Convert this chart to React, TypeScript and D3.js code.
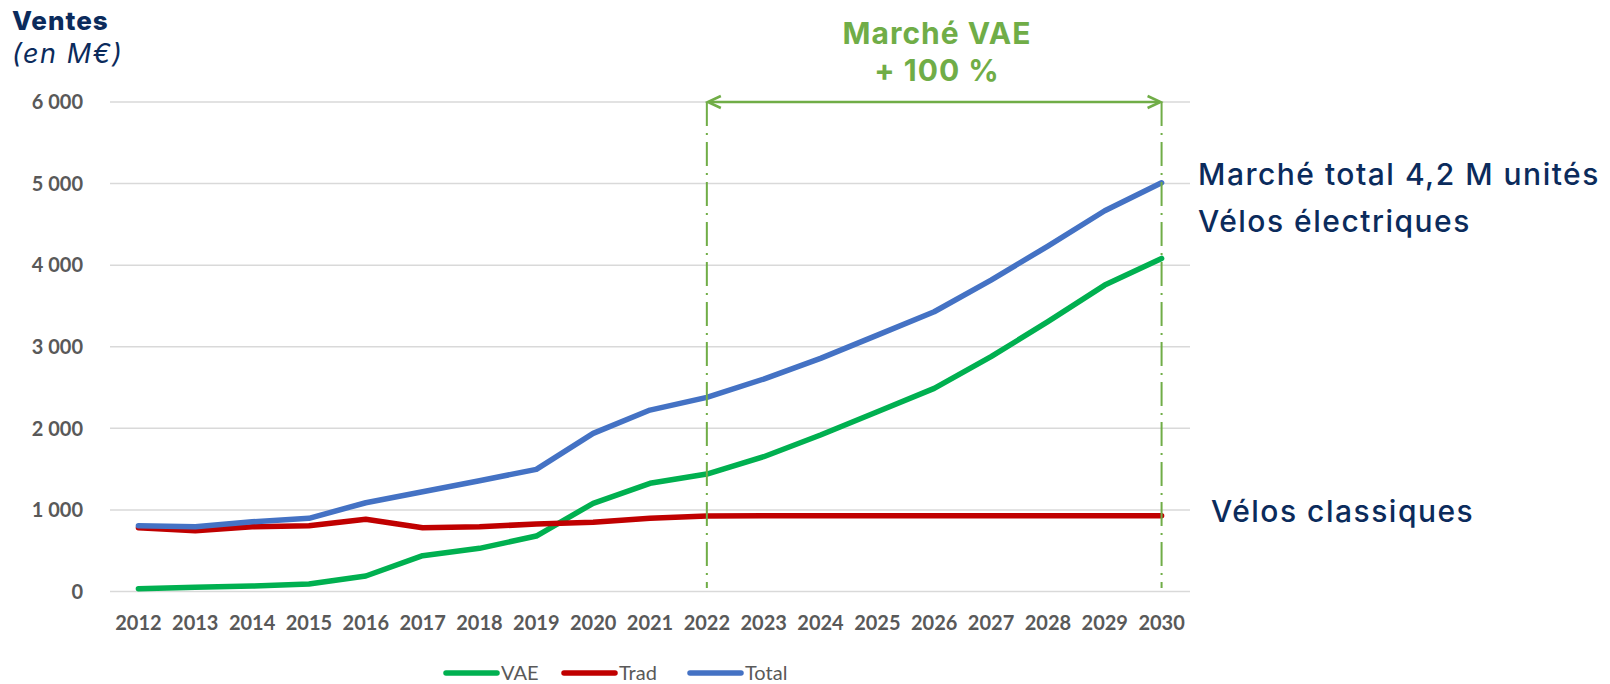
import React, { useEffect, useRef } from "react";
import * as d3 from "d3";

const years = [
  "2012", "2013", "2014", "2015", "2016", "2017", "2018", "2019", "2020", "2021",
  "2022", "2023", "2024", "2025", "2026", "2027", "2028", "2029", "2030",
];
const vae = [35, 51, 67, 92, 190, 439, 529, 680, 1081, 1326, 1440, 1652, 1918, 2204, 2490, 2878, 3307, 3756, 4083];
const trad = [782, 745, 794, 806, 885, 782, 794, 827, 848, 897, 925, 928, 928, 928, 928, 928, 928, 928, 928];
const total = [806, 794, 855, 897, 1088, 1223, 1358, 1497, 1938, 2224, 2380, 2604, 2857, 3143, 3429, 3817, 4234, 4667, 5010];
const yTicks = [0, 1000, 2000, 3000, 4000, 5000, 6000];
const seriesNames = ["VAE", "Trad", "Total"];
const seriesColors = ["#00B050", "#C00000", "#4472C4"];
const bracketYears = ["2022", "2030"];

const App = () => {
  const chartRef = useRef<SVGSVGElement | null>(null);

  useEffect(() => {
    const width = 1610;
    const height = 684;
    const svg = d3.select(chartRef.current);
    svg.selectAll("*").remove();
    svg.attr("width", width).attr("height", height);

    const navy = "#0B2B5C";
    const green = "#70AD47";
    const grey = "#595959";

    // scales
    const x = d3.scaleBand().domain(years).range([110, 1190]).padding(0);
    const cx = (d: string) => (x(d) as number) + x.bandwidth() / 2;
    const y = d3.scaleLinear().domain([0, 6000]).range([591.5, 102]);

    const fmt = d3.formatLocale({
      decimal: ",",
      thousands: "\u00a0",
      grouping: [3],
      currency: ["", " €"],
    }).format(",");

    // gridlines
    svg
      .append("g")
      .selectAll("line")
      .data(yTicks)
      .join("line")
      .attr("x1", 110)
      .attr("x2", 1190)
      .attr("y1", (d) => y(d))
      .attr("y2", (d) => y(d))
      .attr("stroke", "#D9D9D9")
      .attr("stroke-width", 1.5);

    // y tick labels
    svg
      .append("g")
      .selectAll("text")
      .data(yTicks)
      .join("text")
      .attr("x", 83)
      .attr("y", (d) => y(d))
      .attr("dy", "0.36em")
      .attr("text-anchor", "end")
      .style("font-family", "Lato")
      .style("font-weight", 700)
      .style("font-size", "20px")
      .style("fill", grey)
      .text((d) => fmt(d));

    // x tick labels
    svg
      .append("g")
      .selectAll("text")
      .data(years)
      .join("text")
      .attr("x", (d) => cx(d))
      .attr("y", 630)
      .attr("text-anchor", "middle")
      .style("font-family", "Lato")
      .style("font-weight", 700)
      .style("font-size", "20px")
      .style("fill", grey)
      .text((d) => d);

    // lines
    const line = d3
      .line<number>()
      .x((d, i) => cx(years[i]))
      .y((d) => y(d));

    [vae, trad, total].forEach((vals, i) => {
      svg
        .append("path")
        .datum(vals)
        .attr("fill", "none")
        .attr("stroke", seriesColors[i])
        .attr("stroke-width", 5.5)
        .attr("stroke-linejoin", "round")
        .attr("stroke-linecap", "round")
        .attr("d", line);
    });

    // dash-dot bracket lines
    bracketYears.forEach((yr) => {
      svg
        .append("line")
        .attr("x1", cx(yr))
        .attr("x2", cx(yr))
        .attr("y1", y(6000))
        .attr("y2", 588)
        .attr("stroke", green)
        .attr("stroke-width", 2)
        .attr("stroke-dasharray", "24 7 2 7");
    });

    // double arrow
    const ax1 = cx(bracketYears[0]);
    const ax2 = cx(bracketYears[1]);
    const ay = y(6000);
    svg
      .append("line")
      .attr("x1", ax1 + 2)
      .attr("x2", ax2 - 2)
      .attr("y1", ay)
      .attr("y2", ay)
      .attr("stroke", green)
      .attr("stroke-width", 2.5);
    svg
      .append("path")
      .attr("d", `M${ax1 + 14},${ay - 6}L${ax1 + 1},${ay}L${ax1 + 14},${ay + 6}`)
      .attr("fill", "none")
      .attr("stroke", green)
      .attr("stroke-width", 2.5);
    svg
      .append("path")
      .attr("d", `M${ax2 - 14},${ay - 6}L${ax2 - 1},${ay}L${ax2 - 14},${ay + 6}`)
      .attr("fill", "none")
      .attr("stroke", green)
      .attr("stroke-width", 2.5);

    // annotation text
    const annot = svg
      .append("text")
      .attr("text-anchor", "middle")
      .style("font-family", "Inter")
      .style("font-weight", 700)
      .style("font-size", "30px")
      .style("letter-spacing", "1px")
      .style("fill", green);
    annot.append("tspan").attr("x", 937).attr("y", 44).text("Marché VAE");
    annot.append("tspan").attr("x", 937).attr("y", 81).text("+ 100 %");

    // title
    svg
      .append("text")
      .attr("x", 12)
      .attr("y", 30)
      .style("font-family", "Inter")
      .style("font-weight", 800)
      .style("font-size", "26px")
      .style("letter-spacing", "1px")
      .style("fill", navy)
      .text("Ventes");
    svg
      .append("text")
      .attr("x", 12)
      .attr("y", 63)
      .style("font-family", "Inter")
      .style("font-style", "italic")
      .style("font-weight", 400)
      .style("font-size", "27px")
      .style("letter-spacing", "1.5px")
      .style("fill", navy)
      .text("(en M€)");

    // right-side labels
    const rightLabels = [
      { text: "Marché total 4,2 M unités", x: 1198, y: 185 },
      { text: "Vélos électriques", x: 1198, y: 232 },
      { text: "Vélos classiques", x: 1211, y: 522 },
    ];
    svg
      .append("g")
      .selectAll("text")
      .data(rightLabels)
      .join("text")
      .attr("x", (d) => d.x)
      .attr("y", (d) => d.y)
      .style("font-family", "Inter")
      .style("font-weight", 500)
      .style("font-size", "30px")
      .style("letter-spacing", "1.5px")
      .style("fill", navy)
      .text((d) => d.text);

    // legend
    const legendX = [444, 562, 688];
    const legend = svg
      .append("g")
      .selectAll("g")
      .data(seriesNames)
      .join("g")
      .attr("transform", (d, i) => `translate(${legendX[i]},673)`);
    legend
      .append("line")
      .attr("x1", 2)
      .attr("x2", 53)
      .attr("stroke", (d, i) => seriesColors[i])
      .attr("stroke-width", 5.5)
      .attr("stroke-linecap", "round");
    legend
      .append("text")
      .attr("x", 57)
      .attr("dy", "0.35em")
      .style("font-family", "Lato")
      .style("font-size", "20px")
      .style("fill", grey)
      .text((d) => d);
  }, []);

  return (
    <svg
      ref={chartRef}
      style={{ position: "absolute", left: 0, top: 0, background: "#fff" }}
    />
  );
};

export default App;
